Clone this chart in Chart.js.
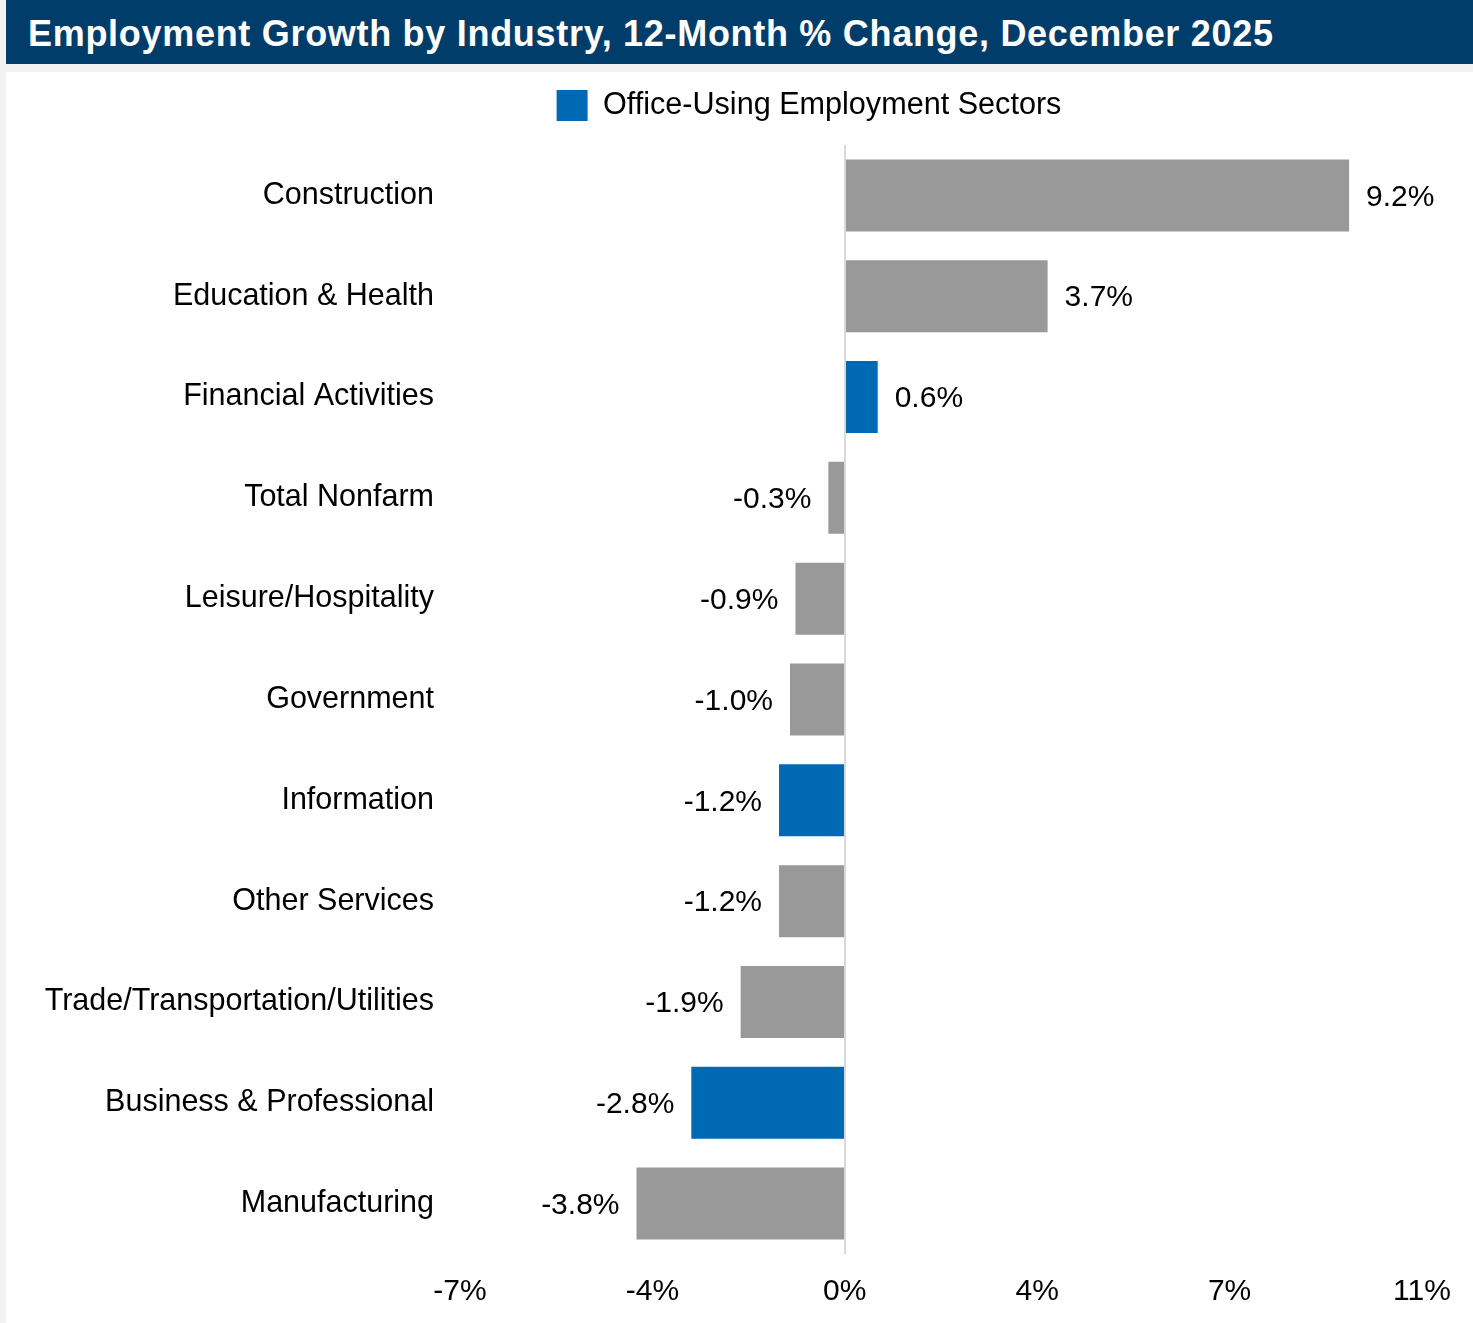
<!DOCTYPE html>
<html>
<head>
<meta charset="utf-8">
<script src="https://cdn.jsdelivr.net/npm/chart.js@4"></script>
<style>
  body { margin:0; background:#f2f2f2; width:1473px; height:1323px; overflow:hidden; position:relative; font-family:"Liberation Sans", Arial, sans-serif; }
  #title { position:absolute; left:6px; top:0; width:1467px; height:64px; background:#003d6a; color:#fff; font-weight:bold; font-size:36px; letter-spacing:0.7px; line-height:67px; padding-left:22px; box-sizing:border-box; white-space:nowrap; }
  #panel { position:absolute; left:6px; top:72px; width:1467px; height:1251px; background:#fff; }
</style>
</head>
<body>
<div id="title">Employment Growth by Industry, 12-Month % Change, December 2025</div>
<div id="panel"><canvas id="growthChart" width="1467" height="1251"></canvas></div>
<script>
let industries = ["Construction", "Education & Health", "Financial Activities", "Total Nonfarm",
	"Leisure/Hospitality", "Government", "Information", "Other Services",
	"Trade/Transportation/Utilities", "Business & Professional", "Manufacturing"];
let changes = [9.2, 3.7, 0.6, -0.3, -0.9, -1.0, -1.2, -1.2, -1.9, -2.8, -3.8];
let officeUsing = [false, false, true, false, false, false, true, false, false, true, false];
let tickLabels = ["-7%", "-4%", "0%", "4%", "7%", "11%"];
let legendText = "Office-Using Employment Sectors";

let blue = "#0069b4";
let grey = "#999999";
let fontFamily = '"Liberation Sans", Arial, sans-serif';

Chart.defaults.font.family = fontFamily;
Chart.defaults.color = "#000";

//value labels next to each bar
const barLabels = {
	id: "barLabels",
	afterDatasetsDraw(chart) {
		let ctx = chart.ctx;
		let meta = chart.getDatasetMeta(0);
		ctx.save();
		ctx.font = "30px " + fontFamily;
		ctx.fillStyle = "#000";
		ctx.textBaseline = "middle";
		meta.data.forEach((bar, i) => {
			let txt = changes[i].toFixed(1) + "%";
			if (changes[i] >= 0) {
				ctx.textAlign = "left";
				ctx.fillText(txt, bar.x + 17, bar.y + 2);
			} else {
				ctx.textAlign = "right";
				ctx.fillText(txt, bar.x - 17, bar.y + 2);
			}
		});
		ctx.restore();
	}
};

//extra room under the legend, and legend nudged right like the original
const legendTweak = {
	id: "legendTweak",
	beforeInit(chart) {
		let fit = chart.legend.fit;
		chart.legend.fit = function () {
			fit.call(this);
			this.height += 14;
		};
	},
	afterLayout(chart) {
		chart.legend.left += 95;
		chart.legend.right += 95;
	}
};

let ctx = document.getElementById("growthChart").getContext("2d");
let chart = new Chart(ctx, {
	type: "bar",
	data: {
		labels: industries,
		datasets: [{
			data: changes,
			backgroundColor: officeUsing.map(o => o ? blue : grey),
			barPercentage: 0.714,
			categoryPercentage: 1.0
		}]
	},
	options: {
		indexAxis: "y",
		responsive: false,
		animation: false,
		layout: { padding: { top: 9, left: 0, right: 51, bottom: 0 } },
		plugins: {
			tooltip: { enabled: false },
			legend: {
				position: "top",
				labels: {
					boxWidth: 31,
					boxHeight: 31,
					padding: 9,
					font: { size: 30.6 },
					generateLabels: () => [{
						text: legendText,
						fillStyle: blue,
						strokeStyle: blue,
						lineWidth: 0,
						hidden: false,
						datasetIndex: 0
					}]
				}
			}
		},
		scales: {
			x: {
				min: -7.02,
				max: 10.53,
				border: { display: false },
				grid: {
					drawTicks: false,
					z: 1,
					lineWidth: 2,
					color: c => (c.tick && Math.abs(c.tick.value) < 1e-6) ? "#d9d9d9" : "rgba(0,0,0,0)"
				},
				ticks: {
					stepSize: 3.51,
					padding: 20,
					font: { size: 30 },
					color: "#000",
					maxRotation: 0,
					callback: (v, i) => tickLabels[i]
				},
				afterFit(scale) { scale.height = 69; }
			},
			y: {
				border: { display: false },
				grid: { display: false, drawTicks: false },
				ticks: { padding: 26, font: { size: 30.5 }, color: "#000", autoSkip: false },
				afterFit(scale) { scale.width = 454; }
			}
		}
	},
	plugins: [barLabels, legendTweak]
});
</script>
</body>
</html>
